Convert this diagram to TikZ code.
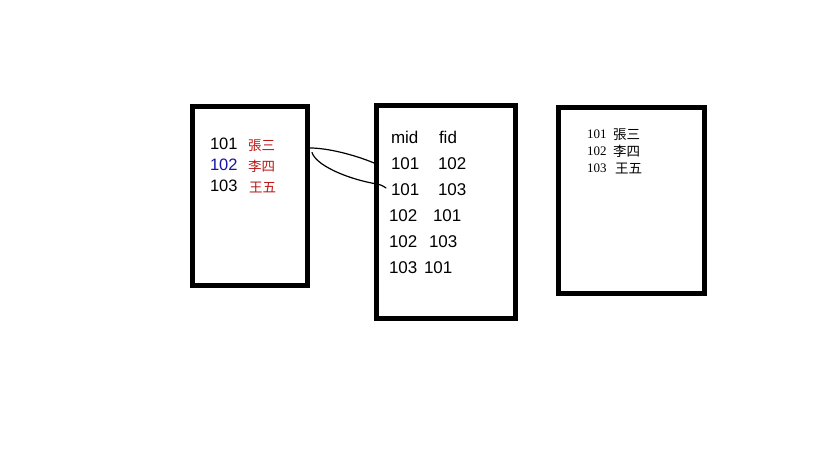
\documentclass[tikz,border=0pt]{standalone}
\usepackage{fontspec}
\setmainfont{Liberation Sans}
\newfontfamily\cjk{Noto Sans CJK TC}
\newfontfamily\serifdig{Liberation Serif}
\definecolor{namered}{RGB}{190,20,20}
\definecolor{idblue}{RGB}{20,20,170}
\begin{document}
\begin{tikzpicture}[x=1pt,y=-1pt,
  box/.style={draw=black,line width=5pt,inner sep=0pt,outer sep=0pt},
  lbl/.style={anchor=base west,inner sep=0pt,outer sep=0pt},
  num/.style={lbl,font=\fontsize{16.5}{18}\selectfont},
  nm/.style={lbl,font=\cjk\fontsize{13.5}{15}\selectfont,text=namered},
  tnum/.style={lbl,font=\fontsize{17}{19}\selectfont},
  snum/.style={lbl,font=\serifdig\fontsize{13}{15}\selectfont},
  snm/.style={lbl,font=\cjk\fontsize{13.5}{15}\selectfont},
  link/.style={draw=black,line width=1.2pt,line cap=round}]
\fill[white] (0,0) rectangle (819,460);
\useasboundingbox (0,0) rectangle (819,460);
% boxes
\node[box,minimum width=115pt,minimum height=179pt] (b1) at (250,196) {};
\node[box,minimum width=139pt,minimum height=213pt] (b2) at (446,212) {};
\node[box,minimum width=146pt,minimum height=186pt] (b3) at (631.5,200.5) {};
% box 1
\node[num] (a1) at (210,149) {101};
\node[nm] (a1n) at (248,150) {張三};
\node[num,text=idblue] (a2) at (210,170.5) {102};
\node[nm] (a2n) at (248,171.5) {李四};
\node[num] (a3) at (210,191.5) {103};
\node[nm] (a3n) at (249,192.5) {王五};
% box 2
\node[tnum] (h1) at (391,143) {mid};
\node[tnum] (h2) at (439,143) {fid};
\node[tnum] (r1a) at (391,169) {101};
\node[tnum] (r1b) at (438,169) {102};
\node[tnum] (r2a) at (391,195) {101};
\node[tnum] (r2b) at (438,195) {103};
\node[tnum] (r3a) at (389,221) {102};
\node[tnum] (r3b) at (433,221) {101};
\node[tnum] (r4a) at (389,247) {102};
\node[tnum] (r4b) at (429,247) {103};
\node[tnum] (r5a) at (389,273) {103};
\node[tnum] (r5b) at (424,273) {101};
% box 3
\node[snum] (c1) at (587,138) {101};
\node[snm] (c1n) at (613,139) {張三};
\node[snum] (c2) at (587,155) {102};
\node[snm] (c2n) at (613,156) {李四};
\node[snum] (c3) at (587,172) {103};
\node[snm] (c3n) at (615,173) {王五};
% connectors
\coordinate (s1) at (310,148);
\coordinate (e1) at (374,163);
\coordinate (s2) at (312,152.5);
\coordinate (m2) at (374,183.5);
\coordinate (e2) at (386,188);
\draw[link] (s1) .. controls (328,148) and (355,155) .. (e1);
\draw[link] (s2) .. controls (316,165) and (345,178) .. (m2) .. controls (380,184) and (383,186) .. (e2);
\end{tikzpicture}
\end{document}
